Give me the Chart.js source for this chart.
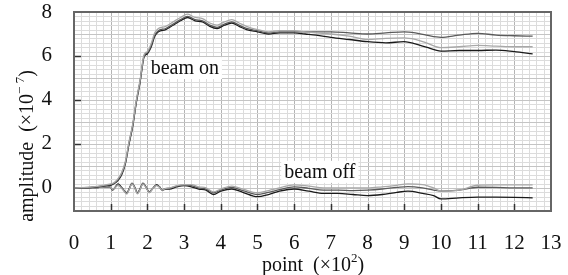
<!DOCTYPE html>
<html><head><meta charset="utf-8">
<script src="https://cdn.jsdelivr.net/npm/chart.js@4.4.1/dist/chart.umd.min.js"></script>
<style>html,body{margin:0;padding:0;background:#fff}#wrap{width:568px;height:275px}</style>
</head><body><div id="wrap"><canvas id="c" width="568" height="275"></canvas></div>
<script>
// x in units of 10^2 points
const onX = [0,0.5,0.9,1.0,1.1,1.2,1.3,1.4,1.5,1.6,1.7,1.8,1.9,1.95,2.0,2.1,2.2,2.3,2.5,2.7,2.9,3.1,3.3,3.5,3.7,3.9,4.1,4.3,4.5,4.7,5.0,5.3,5.6,6.0,6.3,6.6,7.0,7.5,8.0,8.5,9.0,9.3,9.6,10.0,10.5,11.0,11.5,12.0,12.5];
const onBlack = [0,0.02,0.1,0.12,0.2,0.35,0.6,1.1,2.0,2.8,3.9,4.8,5.9,6.05,6.1,6.4,6.9,7.1,7.2,7.4,7.6,7.75,7.6,7.55,7.35,7.25,7.4,7.5,7.35,7.2,7.1,7.0,7.05,7.05,7.0,6.95,6.85,6.75,6.65,6.6,6.65,6.55,6.4,6.22,6.25,6.25,6.27,6.2,6.1];
const onDark = [0,0.03,0.12,0.15,0.22,0.38,0.65,1.15,2.05,2.85,3.95,4.85,5.95,6.1,6.15,6.45,6.95,7.15,7.25,7.45,7.65,7.8,7.65,7.6,7.4,7.3,7.45,7.55,7.4,7.25,7.15,7.05,7.1,7.1,7.1,7.1,7.1,7.05,7.0,7.05,7.1,7.05,6.95,6.85,6.95,7.03,6.95,6.92,6.9];
const onLight = [0,0.05,0.15,0.18,0.25,0.42,0.7,1.2,2.1,2.9,4.0,4.9,6.0,6.15,6.2,6.55,7.05,7.25,7.35,7.55,7.75,7.9,7.75,7.7,7.5,7.4,7.55,7.65,7.5,7.35,7.2,7.1,7.15,7.15,7.1,7.05,7.0,6.9,6.75,6.8,6.82,6.75,6.6,6.38,6.42,6.48,6.45,6.42,6.42];

const offX = [0,0.5,0.9,1.0,1.05,1.13,1.2,1.27,1.33,1.44,1.51,1.58,1.65,1.73,1.8,1.88,1.96,2.05,2.15,2.25,2.33,2.4,2.5,2.6,2.8,3.0,3.2,3.4,3.6,3.8,4.0,4.3,4.6,5.0,5.3,5.6,6.0,6.4,6.8,7.2,7.6,8.0,8.4,8.8,9.1,9.5,9.8,10.0,10.5,11.0,11.5,12.0,12.5];
const offBlack = [0,0,0.05,0.02,-0.1,0.05,0.18,0.08,-0.05,-0.25,-0.02,0.22,0.05,-0.24,-0.05,0.22,0.05,-0.2,-0.02,0.15,0.05,-0.1,-0.05,-0.05,0.05,0.1,0.05,-0.05,-0.1,-0.3,-0.15,-0.05,-0.2,-0.4,-0.3,-0.15,-0.05,-0.15,-0.25,-0.25,-0.3,-0.35,-0.3,-0.2,-0.15,-0.25,-0.35,-0.5,-0.45,-0.42,-0.42,-0.43,-0.45];
const offDark = [0,0,0.05,0.03,-0.08,0.04,0.15,0.06,-0.05,-0.22,-0.02,0.2,0.04,-0.22,-0.04,0.2,0.04,-0.18,-0.01,0.13,0.04,-0.08,-0.03,-0.02,0.08,0.12,0.1,0.0,-0.05,-0.22,-0.1,0.02,-0.12,-0.3,-0.2,-0.08,0.05,-0.02,-0.1,-0.1,-0.12,-0.1,-0.05,0.02,0.06,0.0,-0.1,-0.15,-0.1,0.03,0.02,0.0,0.0];
const offLight = [0,0,0.06,0.04,-0.06,0.03,0.12,0.03,-0.08,-0.28,-0.05,0.18,0.02,-0.27,-0.07,0.18,0.02,-0.22,-0.03,0.1,0.02,-0.1,-0.02,0.0,0.1,0.15,0.15,0.05,0.0,-0.18,-0.05,0.08,-0.05,-0.22,-0.12,0.0,0.14,0.08,0.0,0.0,0.0,0.0,0.05,0.12,0.18,0.15,0.0,-0.15,-0.1,0.12,0.14,0.14,0.14];

const xTicks = [0,1,2,3,4,5,6,7,8,9,10,11,12,13];
const yTicks = [0,2,4,6,8];

const SERIF = '"Liberation Serif", "DejaVu Serif", serif';
const pts = (xs, ys) => xs.map((x, i) => ({x: x, y: ys[i]}));
const ds = (xs, ys, color) => ({data: pts(xs, ys), borderColor: color, borderWidth: 1.3, pointRadius: 0, tension: 0.3, cubicInterpolationMode: 'monotone', fill: false});

const gridPlugin = {
  id: 'grid',
  beforeDatasetsDraw(chart) {
    const {ctx, chartArea: a, scales: {x, y}} = chart;
    ctx.save();
    ctx.lineWidth = 1;
    for (let i = 1; i < 65; i++) {
      const v = i * 0.2;
      const px = Math.round(x.getPixelForValue(v)) + 0.5;
      const major = i % 5 === 0;
      ctx.strokeStyle = major ? '#b4b4b4' : '#dcdcdc';
      ctx.beginPath(); ctx.moveTo(px, a.top); ctx.lineTo(px, a.bottom); ctx.stroke();
    }
    for (let i = -5; i < 40; i++) {
      const v = i * 0.2;
      const py = Math.round(y.getPixelForValue(v)) + 0.5;
      const major = i % 5 === 0;
      ctx.strokeStyle = major ? '#c4c4c4' : '#dcdcdc';
      ctx.beginPath(); ctx.moveTo(a.left, py); ctx.lineTo(a.right, py); ctx.stroke();
    }
    ctx.restore();
  },
  afterDatasetsDraw(chart) {
    const {ctx, chartArea: a, scales: {x, y}} = chart;
    ctx.save();
    ctx.strokeStyle = '#333'; ctx.lineWidth = 1.5;
    xTicks.slice(1, -1).forEach(v => {
      const px = Math.round(x.getPixelForValue(v)) + 0.5;
      ctx.beginPath(); ctx.moveTo(px, a.bottom); ctx.lineTo(px, a.bottom - 7); ctx.stroke();
    });
    yTicks.slice(1, -1).forEach(v => {
      const py = Math.round(y.getPixelForValue(v)) + 0.5;
      ctx.beginPath(); ctx.moveTo(a.left, py); ctx.lineTo(a.left + 7, py); ctx.stroke();
    });
    ctx.strokeStyle = '#666'; ctx.lineWidth = 2;
    ctx.strokeRect(a.left, a.top, a.right - a.left, a.bottom - a.top);
    ctx.font = '20px ' + SERIF;
    ctx.textBaseline = 'middle'; ctx.textAlign = 'center';
    const label = (t, vx, vy) => {
      const cx = x.getPixelForValue(vx), cy = y.getPixelForValue(vy);
      const w = ctx.measureText(t).width;
      ctx.fillStyle = '#fff';
      ctx.fillRect(cx - w / 2 - 3, cy - 11, w + 6, 22);
      ctx.fillStyle = '#111';
      ctx.fillText(t, cx, cy + 1);
    };
    label('beam on', 3.02, 5.45);
    label('beam off', 6.7, 0.73);
    ctx.fillStyle = '#111';
    ctx.textAlign = 'left'; ctx.textBaseline = 'alphabetic';
    const drawParts = (parts, cx, cy) => {
      let total = 0;
      parts.forEach(p => { ctx.font = p.size + 'px ' + SERIF; p.w = ctx.measureText(p.t).width; total += p.w; });
      let sx = cx - total / 2;
      parts.forEach(p => { ctx.font = p.size + 'px ' + SERIF; ctx.fillText(p.t, sx, cy - (p.up || 0)); sx += p.w; });
    };
    drawParts([{t: 'point  (\u00d710', size: 20}, {t: '2', size: 13, up: 9}, {t: ')', size: 20}], 313, 271);
    ctx.save();
    ctx.translate(33, 146); ctx.rotate(-Math.PI / 2);
    drawParts([{t: 'amplitude  (\u00d710', size: 20}, {t: '\u2212 7', size: 13, up: 9}, {t: ')', size: 20}], 0, 0);
    ctx.restore();
    ctx.restore();
  }
};

new Chart(document.getElementById('c'), {
  type: 'line',
  data: {
    datasets: [
      ds(onX, onLight, '#a8a8a8'),
      ds(onX, onDark, '#5a5a5a'),
      ds(onX, onBlack, '#1a1a1a'),
      ds(offX, offLight, '#a8a8a8'),
      ds(offX, offDark, '#5a5a5a'),
      ds(offX, offBlack, '#1a1a1a')
    ]
  },
  options: {
    responsive: false, animation: false,
    layout: {padding: {left: 0, right: 17, top: 12, bottom: 0}},
    plugins: {legend: {display: false}, tooltip: {enabled: false}},
    scales: {
      x: {
        type: 'linear', min: 0, max: 13,
        grid: {display: false}, border: {display: false},
        afterBuildTicks: s => { s.ticks = xTicks.map(v => ({value: v})); },
        afterFit: s => { s.height = 64; s.paddingLeft = 0; s.paddingRight = 0; },
        ticks: {font: {family: SERIF, size: 21}, color: '#111', padding: 12, maxRotation: 0, autoSkip: false}
      },
      y: {
        type: 'linear', min: -1.05, max: 8,
        grid: {display: false}, border: {display: false},
        afterBuildTicks: s => { s.ticks = yTicks.map(v => ({value: v})); },
        afterFit: s => { s.width = 74; s.paddingTop = 0; s.paddingBottom = 0; },
        ticks: {font: {family: SERIF, size: 21}, color: '#111', padding: 14}
      }
    }
  },
  plugins: [gridPlugin]
});
</script></body></html>
